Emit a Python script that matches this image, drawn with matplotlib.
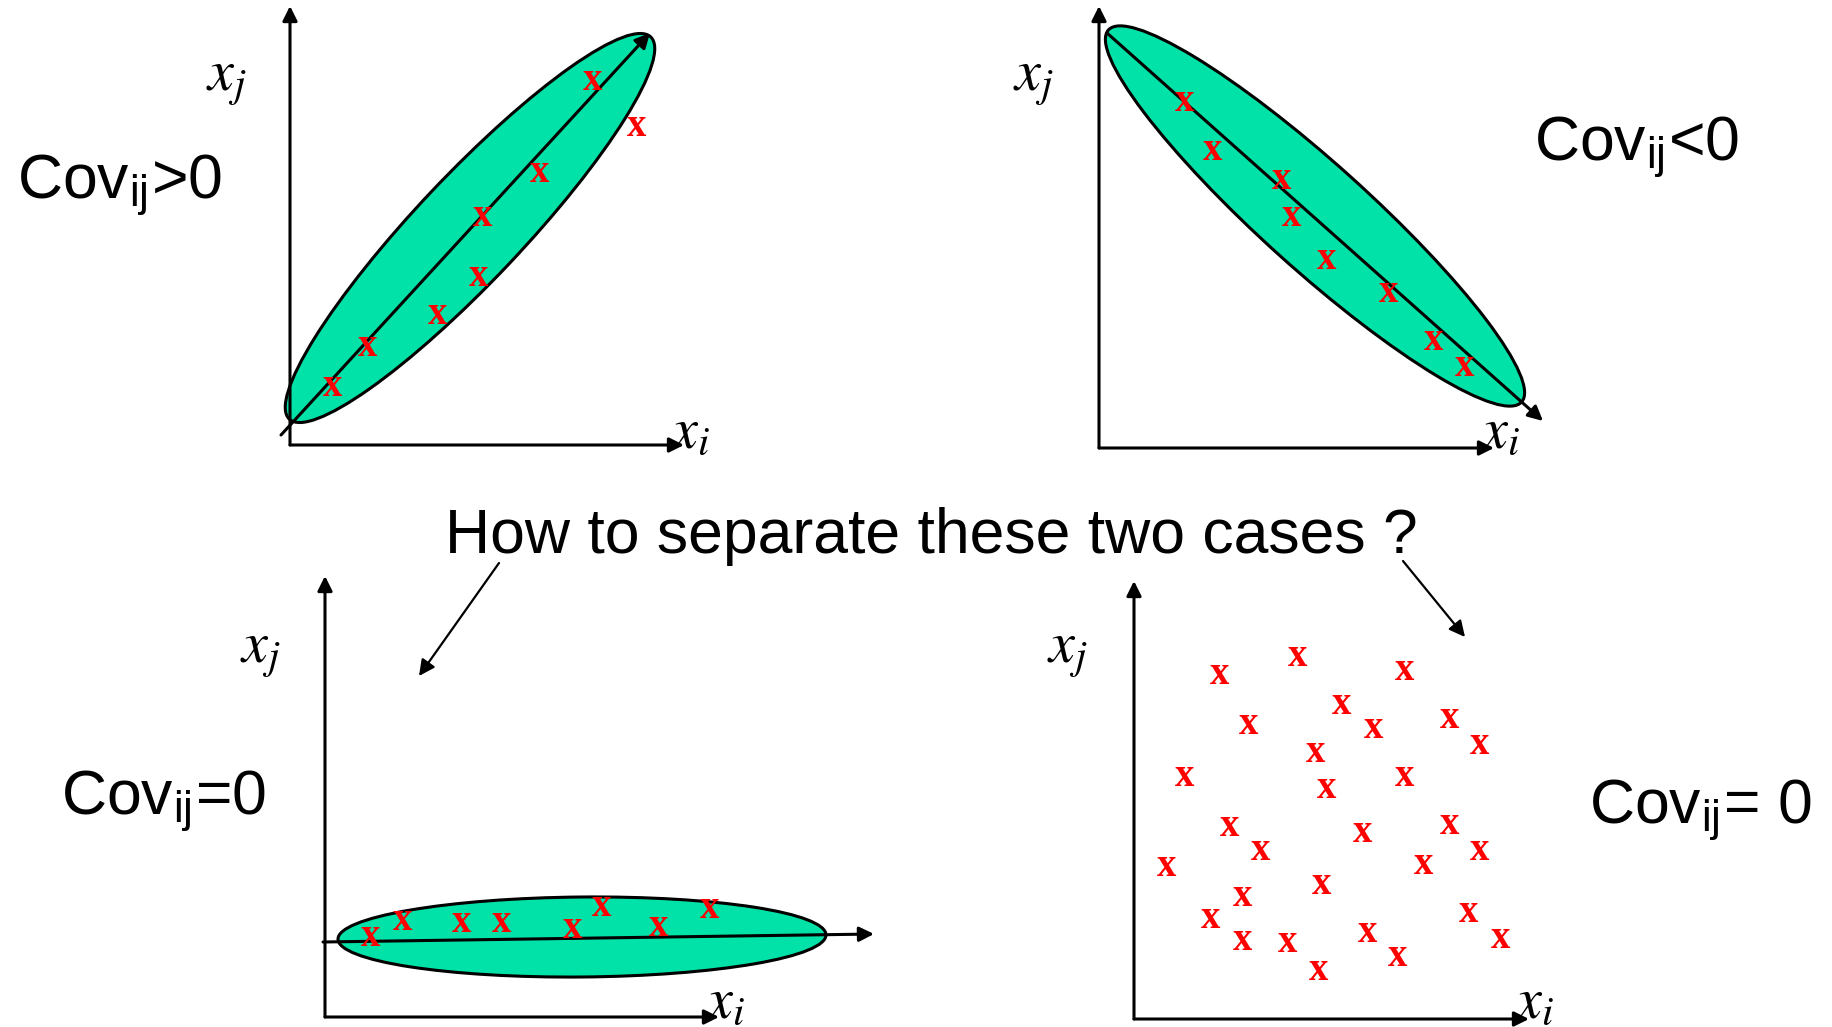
import matplotlib
matplotlib.use("Agg")
from matplotlib import pyplot as plt
from matplotlib.patches import Ellipse

plt.rcParams['mathtext.fontset'] = 'stix'

W, H = 1833, 1027

# points of each panel, offsets from the panel origin (x_i, x_j)
pos_xi = [43, 78, 148, 189, 193, 250, 303, 347]
pos_xj = [59, 98, 131, 168, 229, 273, 364, 318]

neg_xi = [86, 114, 183, 193, 228, 290, 335, 366]
neg_xj = [346, 297, 268, 231, 188, 156, 108, 82]

flat_xi = [46, 78, 137, 177, 248, 277, 334, 385]
flat_xj = [80, 97, 94, 94, 89, 110, 91, 109]

cloud_xi = [86, 164, 271, 208, 115, 240, 316, 182, 346, 51, 193, 271, 96, 127, 229,
            316, 346, 290, 33, 188, 109, 77, 335, 109, 154, 234, 367, 264, 185]
cloud_xj = [344, 363, 349, 315, 295, 290, 300, 267, 274, 243, 230, 242, 193, 168, 187,
            194, 168, 155, 152, 135, 122, 101, 107, 78, 76, 87, 81, 62, 49]

# ellipse: centre, full width, full height, angle ; principal line start/end
pos_ell = ((180, 217), 526, 106, 46.6)
pos_line = ((-9, 10), (360, 412))
neg_ell = ((216, 232), 556, 106, -42.0)
neg_line = ((8, 415), (444, 27))
flat_ell = ((257, 80), 488, 80, 0.5)
flat_line = ((-2, 75), (549, 83))

fill = '#00E2A8'
sans = ['Liberation Sans', 'DejaVu Sans']

fig = plt.figure(figsize=(W / 100, H / 100), dpi=100)


def panel(ox, oy, w, h):
    ax = fig.add_axes([ox / W, 1 - oy / H, w / W, h / H])
    ax.set_xlim(0, w)
    ax.set_ylim(0, h)
    ax.axis('off')
    ap = dict(arrowstyle='-|>', lw=2.2, color='black', mutation_scale=22,
              shrinkA=0, shrinkB=0)
    ax.annotate('', xy=(0, h), xytext=(0, 0), arrowprops=ap, annotation_clip=False)
    ax.annotate('', xy=(w, 0), xytext=(0, 0), arrowprops=ap, annotation_clip=False)
    return ax


def marks(ax, xs, ys):
    for x, y in zip(xs, ys):
        ax.text(x, y, 'x', color='red', fontsize=28, fontweight='bold',
                family='Liberation Serif', ha='center', va='center', zorder=5)


def blob(ax, ell, line):
    c, w, h, a = ell
    ax.add_patch(Ellipse(c, w, h, angle=a, facecolor=fill, edgecolor='black',
                         lw=2.2, clip_on=False, zorder=1))
    ax.annotate('', xy=line[1], xytext=line[0], annotation_clip=False,
                arrowprops=dict(arrowstyle='-|>', lw=2.2, color='black',
                                mutation_scale=22, shrinkA=0, shrinkB=0), zorder=2)


ax1 = panel(290, 445, 394, 439)
blob(ax1, pos_ell, pos_line)
marks(ax1, pos_xi, pos_xj)

ax2 = panel(1099, 448, 395, 442)
blob(ax2, neg_ell, neg_line)
marks(ax2, neg_xi, neg_xj)

ax3 = panel(325, 1017, 394, 441)
blob(ax3, flat_ell, flat_line)
marks(ax3, flat_xi, flat_xj)

ax4 = panel(1134, 1019, 395, 438)
marks(ax4, cloud_xi, cloud_xj)


def ftext(x, y, s, **kw):
    fig.text(x / W, 1 - y / H, s, **kw)


# axis labels
for x, y, s in [(226, 79, r'$x_j$'), (690, 432, r'$x_i$'),
                (1033, 79, r'$x_j$'), (1500, 432, r'$x_i$'),
                (260, 651, r'$x_j$'), (725, 1002, r'$x_i$'),
                (1067, 651, r'$x_j$'), (1534, 1002, r'$x_i$')]:
    ftext(x, y, s, fontsize=42, ha='center', va='center')

cov = dict(fontsize=45, family=sans, va='baseline', ha='left')
ftext(17, 199, r'Cov$_{\mathregular{ij}}$>0', **cov)
ftext(1534, 161, r'Cov$_{\mathregular{ij}}$<0', **cov)
ftext(61, 815, r'Cov$_{\mathregular{ij}}$=0', **cov)
ftext(1589, 824, r'Cov$_{\mathregular{ij}}$= 0', **cov)

ftext(931, 553, 'How to separate these two cases ?', fontsize=45, family=sans,
      ha='center', va='baseline')

# pointer arrows
ov = fig.add_axes([0, 0, 1, 1])
ov.set_xlim(0, W)
ov.set_ylim(H, 0)
ov.axis('off')
ov.patch.set_alpha(0)
for a, b in [((499, 563), (419, 676)), ((1403, 561), (1465, 637))]:
    ov.annotate('', xy=b, xytext=a,
                arrowprops=dict(arrowstyle='-|>', lw=1.6, color='black',
                                mutation_scale=24, shrinkA=0, shrinkB=0))

fig.savefig('out.png', dpi=100)
